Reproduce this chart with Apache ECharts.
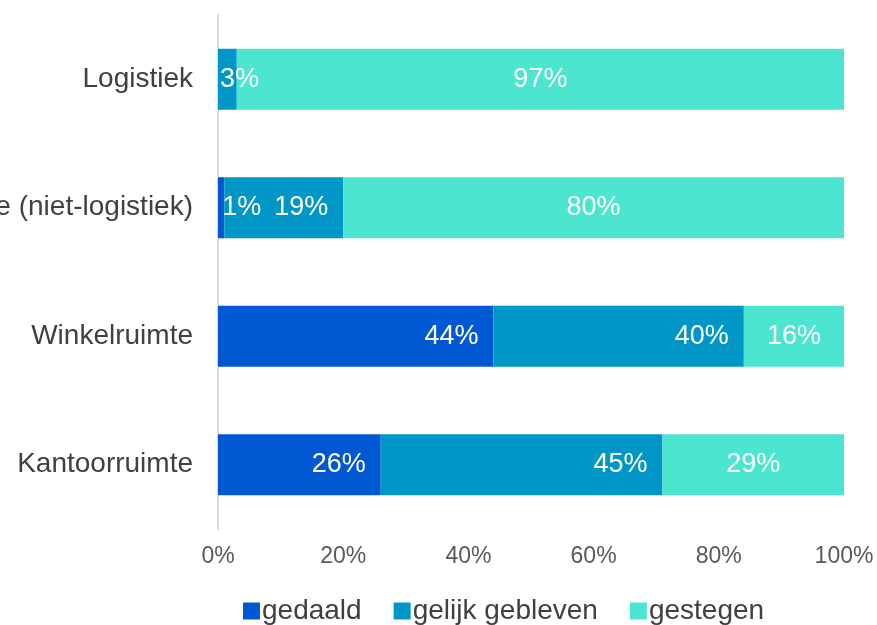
<!DOCTYPE html>
<html>
<head>
<meta charset="utf-8">
<script src="https://cdn.jsdelivr.net/npm/echarts@6/dist/echarts.min.js"></script>
<style>
  html, body { margin: 0; padding: 0; background: #fff; }
  #main { width: 877px; height: 625px; }
</style>
</head>
<body>
<div id="main"></div>
<script>
// categories from bottom to top (category axis starts at the bottom)
var categories = ['Kantoorruimte', 'Winkelruimte', 'Bedrijfsruimte (niet-logistiek)', 'Logistiek'];
var gedaald = [26, 44, 1, 0];
var gelijk = [45, 40, 19, 3];
var gestegen = [29, 16, 80, 97];
var xTicks = [0, 20, 40, 60, 80, 100];

var font = 'Liberation Sans, Arial, sans-serif';

function labelFor(v, pos) {
  // small segments get their label placed next to the bar start, like the original
  if (v === 0) return { show: false };
  if (v < 5) return { show: true, position: pos === 'low' ? 'right' : 'insideLeft', distance: pos === 'low' ? -2 : 2 };
  return {};
}

var myChart = echarts.init(document.getElementById('main'));

var option = {
  animation: false,
  grid: { left: 218, right: 33, top: 15, bottom: 96, containLabel: false, outerBoundsMode: 'none' },
  legend: {
    left: 238,
    top: 592,
    itemWidth: 17,
    itemHeight: 17,
    itemGap: 32,
    icon: 'rect',
    textStyle: { fontFamily: font, fontSize: 28, color: '#404040', padding: [0, 0, 0, -3] },
    data: ['gedaald', 'gelijk gebleven', 'gestegen']
  },
  xAxis: {
    type: 'value',
    min: 0,
    max: 100,
    interval: 20,
    axisLine: { show: false },
    axisTick: { show: false },
    splitLine: { show: false },
    axisLabel: {
      fontFamily: font, fontSize: 23, color: '#595959', margin: 16,
      formatter: function (v) { return xTicks.indexOf(v) >= 0 ? v + '%' : ''; }
    }
  },
  yAxis: {
    type: 'category',
    data: categories,
    axisLine: { show: true, lineStyle: { color: '#d9d9d9', width: 2 } },
    axisTick: { show: false },
    axisLabel: { fontFamily: font, fontSize: 28, color: '#404040', margin: 25 }
  },
  series: [
    {
      name: 'gedaald', type: 'bar', stack: 'a', barWidth: 61,
      itemStyle: { color: '#0058d3' },
      label: { show: true, position: 'insideRight', distance: 15, color: '#fff', fontFamily: font, fontSize: 27,
        formatter: function (p) { return p.value + '%'; } },
      data: gedaald.map(function (v) { return { value: v, label: labelFor(v, 'low') }; })
    },
    {
      name: 'gelijk gebleven', type: 'bar', stack: 'a',
      itemStyle: { color: '#0097c8' },
      label: { show: true, position: 'insideRight', distance: 15, color: '#fff', fontFamily: font, fontSize: 27,
        formatter: function (p) { return p.value + '%'; } },
      data: gelijk.map(function (v) { return { value: v, label: labelFor(v, 'mid') }; })
    },
    {
      name: 'gestegen', type: 'bar', stack: 'a',
      itemStyle: { color: '#4ce6d0' },
      label: { show: true, position: 'inside', color: '#fff', fontFamily: font, fontSize: 27,
        formatter: function (p) { return p.value + '%'; } },
      data: gestegen
    }
  ]
};

myChart.setOption(option);
</script>
</body>
</html>
